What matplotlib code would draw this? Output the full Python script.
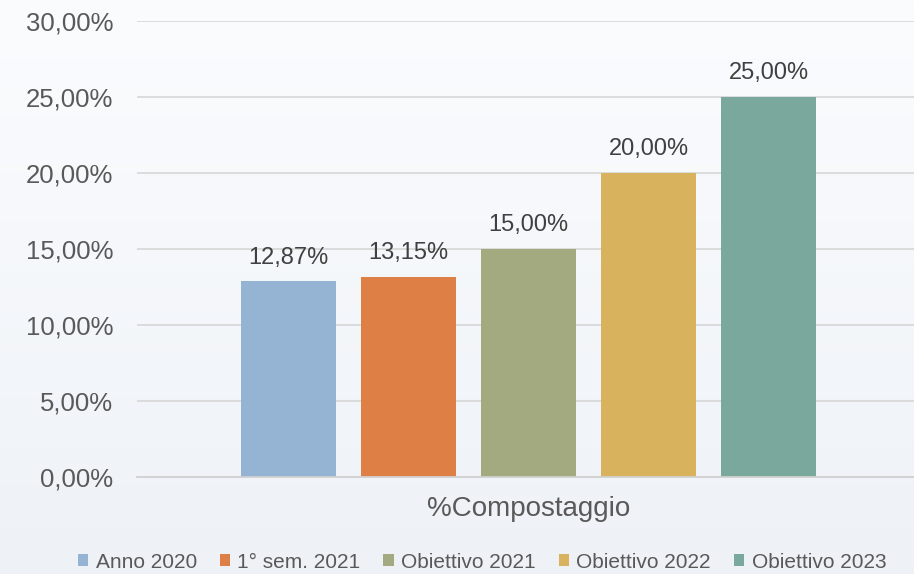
import matplotlib
matplotlib.use("Agg")
import matplotlib.pyplot as plt
import numpy as np
from matplotlib.patches import Patch

plt.rcParams['font.family'] = ['Liberation Sans', 'DejaVu Sans']

category = "%Compostaggio"
series = ["Anno 2020", "1° sem. 2021", "Obiettivo 2021", "Obiettivo 2022", "Obiettivo 2023"]
values = [12.87, 13.15, 15.00, 20.00, 25.00]
colors = ["#95B3D2", "#DE7F46", "#A3AA80", "#D8B25C", "#7AA89C"]
yticks = [0, 5, 10, 15, 20, 25, 30]

W, H = 914, 574
fig = plt.figure(figsize=(W / 100, H / 100), dpi=100)

# background gradient
bg = fig.add_axes([0, 0, 1, 1], zorder=-10)
grad = np.linspace(0, 1, 256).reshape(-1, 1)
top = np.array([0xFB, 0xFC, 0xFE]) / 255
bot = np.array([0xEE, 0xF2, 0xF7]) / 255
img = top[None, None, :] * (1 - grad[:, :, None]) + bot[None, None, :] * grad[:, :, None]
bg.imshow(img, aspect='auto', extent=[0, 1, 0, 1])
bg.axis('off')

left_px, right_px = 137, 920
top_px, bot_px = 20.7, 477
ax = fig.add_axes([left_px / W, 1 - bot_px / H, (right_px - left_px) / W, (bot_px - top_px) / H])
ax.patch.set_alpha(0)

unit = 120.0
center = 528.5
n = len(values)
positions = np.arange(n) - (n - 1) / 2
bars = ax.bar(positions, values, width=95 / unit, color=colors, zorder=3)
ax.set_xlim((left_px - center) / unit, (right_px - center) / unit)
ax.set_ylim(0, 30)

for p, v in zip(positions, values):
    ax.annotate(f"{v:.2f}%".replace(".", ","), (p, v), xytext=(0, 17), textcoords='offset points',
                ha='center', va='center', fontsize=17, color='#404040')

ax.set_yticks(yticks)
ax.set_yticklabels([f"{t:.2f}%".replace(".", ",") for t in yticks], fontsize=18.5, color='#595959')
ax.tick_params(axis='y', length=0, pad=17)
ax.yaxis.grid(True, color='#D9D9D9', linewidth=1.3, zorder=0)
ax.set_axisbelow(True)
for s in ['top', 'right', 'left']:
    ax.spines[s].set_visible(False)
ax.spines['bottom'].set_color('#D0D0D0')
ax.spines['bottom'].set_linewidth(1.3)
ax.spines['bottom'].set_zorder(4)

ax.set_xticks([0])
ax.set_xticklabels([category], fontsize=20, color='#595959')
ax.tick_params(axis='x', length=0, pad=14)

handles = [Patch(facecolor=c, edgecolor='none') for c in colors]
fig.legend(handles, series, loc='center', bbox_to_anchor=(482 / W, 1 - 562 / H), ncol=5,
           frameon=False, fontsize=15, handlelength=0.5, handleheight=0.5,
           handletextpad=0.35, columnspacing=1.1, labelcolor='#595959')

fig.savefig("out.png", dpi=100)
